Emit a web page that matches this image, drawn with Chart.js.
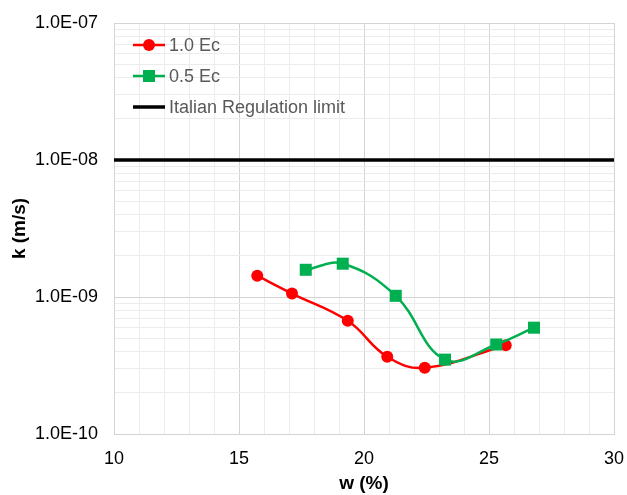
<!DOCTYPE html>
<html>
<head>
<meta charset="utf-8">
<script src="https://cdn.jsdelivr.net/npm/chart.js@4/dist/chart.umd.min.js"></script>
<style>
  html, body { margin: 0; padding: 0; background: #fff; }
  #wrap { width: 627px; height: 495px; }
</style>
</head>
<body>
<div id="wrap"><canvas id="kChart"></canvas></div>
<script>
// values
const seriesNames = ['1.0 Ec', '0.5 Ec', 'Italian Regulation limit'];
const wRed = [15.73, 17.12, 19.35, 20.93, 22.43, 25.67];
const kRed = [1.43e-9, 1.06e-9, 6.7e-10, 3.66e-10, 3.04e-10, 4.45e-10];
const wGreen = [17.67, 19.15, 21.27, 23.24, 25.29, 26.8];
const kGreen = [1.58e-9, 1.75e-9, 1.02e-9, 3.49e-10, 4.5e-10, 5.97e-10];
const wLimit = [10, 30];
const kLimit = [1e-8, 1e-8];
const xTickLabels = [10, 15, 20, 25, 30];
const yDecades = [1e-10, 1e-9, 1e-8, 1e-7];

const FONT = '"Liberation Sans", Arial, sans-serif';
const toPoints = (xs, ys) => xs.map((x, i) => ({ x: x, y: ys[i] }));

function sciLabel(v) {
    const e = Math.round(Math.log10(v));
    const m = v / Math.pow(10, e);
    const sign = e < 0 ? '-' : '+';
    return m.toFixed(1) + 'E' + sign + String(Math.abs(e)).padStart(2, '0');
}

function isDecade(v) {
    const l = Math.log10(v);
    return Math.abs(l - Math.round(l)) < 1e-6;
}

// legend drawn inside the plot area, like the Excel one
const insideLegend = {
    id: 'insideLegend',
    afterDraw(chart) {
        const ctx = chart.ctx;
        const x0 = 133, x1 = 165;
        const rows = [45, 76, 107];
        ctx.save();
        chart.data.datasets.forEach((ds, i) => {
            const y = rows[i];
            ctx.strokeStyle = ds.borderColor;
            ctx.lineWidth = ds.borderWidth;
            ctx.beginPath();
            ctx.moveTo(x0, y);
            ctx.lineTo(x1, y);
            ctx.stroke();
            if (ds.pointRadius > 0) {
                ctx.fillStyle = ds.backgroundColor;
                ctx.beginPath();
                if (ds.pointStyle === 'rect') {
                    const s = ds.pointRadius * Math.SQRT1_2;
                    ctx.rect((x0 + x1) / 2 - s, y - s, 2 * s, 2 * s);
                } else {
                    ctx.arc((x0 + x1) / 2, y, ds.pointRadius, 0, Math.PI * 2);
                }
                ctx.fill();
            }
            ctx.fillStyle = '#595959';
            ctx.font = '18px ' + FONT;
            ctx.textBaseline = 'middle';
            ctx.fillText(ds.label, x1 + 4, y + 1);
        });
        ctx.restore();
    }
};

const ctx = document.getElementById('kChart').getContext('2d');
new Chart(ctx, {
    type: 'line',
    data: {
        datasets: [
            {
                label: seriesNames[0],
                data: toPoints(wRed, kRed),
                borderColor: '#ff0000',
                backgroundColor: '#ff0000',
                borderWidth: 2.5,
                pointStyle: 'circle',
                pointRadius: 6,
                pointBorderWidth: 0,
                tension: 0.4,
                order: 1
            },
            {
                label: seriesNames[1],
                data: toPoints(wGreen, kGreen),
                borderColor: '#00b050',
                backgroundColor: '#00b050',
                borderWidth: 2.5,
                pointStyle: 'rect',
                pointRadius: 8.5,
                pointBorderWidth: 0,
                tension: 0.4,
                order: 0
            },
            {
                label: seriesNames[2],
                data: toPoints(wLimit, kLimit),
                borderColor: '#000000',
                backgroundColor: '#000000',
                borderWidth: 3.5,
                pointRadius: 0,
                tension: 0,
                order: 2
            }
        ]
    },
    options: {
        responsive: true,
        maintainAspectRatio: false,
        animation: false,
        layout: { padding: { top: 23, right: 13, left: 8, bottom: 0 } },
        plugins: {
            legend: { display: false },
            tooltip: { enabled: false }
        },
        scales: {
            x: {
                type: 'linear',
                min: 10,
                max: 30,
                afterBuildTicks(scale) {
                    const t = [];
                    for (let v = 10; v <= 30; v++) t.push({ value: v });
                    scale.ticks = t;
                },
                afterFit(scale) {
                    scale.height = 61;
                    scale.paddingLeft = 0;
                    scale.paddingRight = 0;
                },
                ticks: {
                    autoSkip: false,
                    maxRotation: 0,
                    padding: 14,
                    color: '#000',
                    font: { family: FONT, size: 18 },
                    callback: v => (xTickLabels.includes(v) ? String(v) : '')
                },
                grid: {
                    drawTicks: false,
                    lineWidth: 1,
                    color: c => (c.tick && c.tick.value % 5 === 0 ? '#d4d4d4' : '#ececec')
                },
                border: { color: '#d4d4d4', width: 1 },
                title: {
                    display: true,
                    text: 'w (%)',
                    color: '#000',
                    font: { family: FONT, size: 19, weight: 'bold' },
                    padding: { top: 2, bottom: 0 }
                }
            },
            y: {
                type: 'logarithmic',
                min: 1e-10,
                max: 1e-7,
                afterBuildTicks(scale) {
                    const t = [];
                    for (let e = -10; e < -7; e++) {
                        for (let m = 1; m <= 9; m++) t.push({ value: m * Math.pow(10, e) });
                    }
                    t.push({ value: 1e-7 });
                    scale.ticks = t;
                },
                afterFit(scale) {
                    scale.width = 106;
                    scale.paddingTop = 0;
                    scale.paddingBottom = 0;
                },
                ticks: {
                    autoSkip: false,
                    padding: 16,
                    color: '#000',
                    font: { family: FONT, size: 18 },
                    callback: v => (isDecade(v) ? sciLabel(v) : '')
                },
                grid: {
                    drawTicks: false,
                    lineWidth: 1,
                    color: c => (c.tick && isDecade(c.tick.value) ? '#d4d4d4' : '#ececec')
                },
                border: { color: '#d4d4d4', width: 1 },
                title: {
                    display: true,
                    text: 'k (m/s)',
                    color: '#000',
                    font: { family: FONT, size: 19, weight: 'bold' },
                    padding: { top: 0, bottom: 0 }
                }
            }
        }
    },
    plugins: [insideLegend]
});
</script>
</body>
</html>
